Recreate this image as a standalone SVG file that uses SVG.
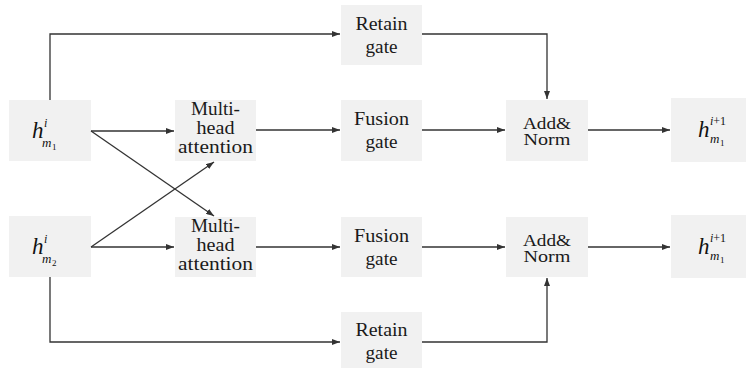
<svg xmlns="http://www.w3.org/2000/svg" width="747" height="369" viewBox="0 0 747 369">
<style>
.box{fill:#f1f1f1;stroke:none}
.t{font-family:"Liberation Serif","Times New Roman",serif;font-size:18px;fill:#1a1a1a;text-anchor:middle}
.s{font-size:16px}
.m{font-family:"Liberation Serif","Times New Roman",serif;font-style:italic;fill:#111}
.c{fill:none;stroke:#333;stroke-width:1.3}
</style>
<defs>
<marker id="ah" markerWidth="8" markerHeight="6" refX="8" refY="3" orient="auto" markerUnits="userSpaceOnUse">
<path d="M0,0 L8,3 L0,6 Z" fill="#333"/>
</marker>
</defs>
<rect width="747" height="369" fill="#fff"/>
<g id="hm1">
<rect class="box" x="9" y="100" width="82" height="61"/>
<text class="m" font-size="23"><tspan x="32" y="138">h</tspan><tspan x="44" y="127" font-size="12">i</tspan><tspan x="42" y="147" font-size="13">m</tspan><tspan x="52" y="150" font-size="9" font-style="normal">1</tspan></text>
</g>
<g id="hm2">
<rect class="box" x="9" y="216" width="82" height="61"/>
<text class="m" font-size="23"><tspan x="32" y="254">h</tspan><tspan x="44" y="243" font-size="12">i</tspan><tspan x="42" y="263" font-size="13">m</tspan><tspan x="52" y="266" font-size="9" font-style="normal">2</tspan></text>
</g>
<g id="mha1">
<rect class="box" x="175" y="100" width="81" height="61"/>
<text class="t" x="215.5" y="115" textLength="49" lengthAdjust="spacingAndGlyphs">Multi-</text>
<text class="t" x="215.5" y="134" textLength="38" lengthAdjust="spacingAndGlyphs">head</text>
<text class="t" x="215.5" y="153" textLength="75" lengthAdjust="spacingAndGlyphs">attention</text>
</g>
<g id="mha2">
<rect class="box" x="175" y="217" width="81" height="60"/>
<text class="t" x="215.5" y="232" textLength="49" lengthAdjust="spacingAndGlyphs">Multi-</text>
<text class="t" x="215.5" y="251" textLength="38" lengthAdjust="spacingAndGlyphs">head</text>
<text class="t" x="215.5" y="270" textLength="75" lengthAdjust="spacingAndGlyphs">attention</text>
</g>
<g id="rg1">
<rect class="box" x="341" y="5" width="81" height="60"/>
<text class="t" x="381.5" y="30" textLength="52" lengthAdjust="spacingAndGlyphs">Retain</text>
<text class="t" x="381.5" y="53" textLength="32" lengthAdjust="spacingAndGlyphs">gate</text>
</g>
<g id="fg1">
<rect class="box" x="341" y="100" width="81" height="61"/>
<text class="t" x="381.5" y="125" textLength="55" lengthAdjust="spacingAndGlyphs">Fusion</text>
<text class="t" x="381.5" y="148" textLength="32" lengthAdjust="spacingAndGlyphs">gate</text>
</g>
<g id="fg2">
<rect class="box" x="341" y="217" width="81" height="60"/>
<text class="t" x="381.5" y="242" textLength="55" lengthAdjust="spacingAndGlyphs">Fusion</text>
<text class="t" x="381.5" y="265" textLength="32" lengthAdjust="spacingAndGlyphs">gate</text>
</g>
<g id="rg2">
<rect class="box" x="341" y="312" width="81" height="56"/>
<text class="t" x="381.5" y="336" textLength="52" lengthAdjust="spacingAndGlyphs">Retain</text>
<text class="t" x="381.5" y="359" textLength="32" lengthAdjust="spacingAndGlyphs">gate</text>
</g>
<g id="an1">
<rect class="box" x="506" y="100" width="82" height="61"/>
<text class="t s" x="547" y="129" textLength="48" lengthAdjust="spacingAndGlyphs">Add&amp;</text>
<text class="t s" x="547" y="145" textLength="47" lengthAdjust="spacingAndGlyphs">Norm</text>
</g>
<g id="an2">
<rect class="box" x="506" y="217" width="82" height="60"/>
<text class="t s" x="547" y="246" textLength="48" lengthAdjust="spacingAndGlyphs">Add&amp;</text>
<text class="t s" x="547" y="262" textLength="47" lengthAdjust="spacingAndGlyphs">Norm</text>
</g>
<g id="out1">
<rect class="box" x="671" y="98" width="75" height="64"/>
<text class="m" font-size="23"><tspan x="698" y="137">h</tspan><tspan x="710" y="125" font-size="12">i<tspan font-style="normal">+1</tspan></tspan><tspan x="710" y="143" font-size="13">m</tspan><tspan x="720" y="146" font-size="9" font-style="normal">1</tspan></text>
</g>
<g id="out2">
<rect class="box" x="671" y="215" width="75" height="63"/>
<text class="m" font-size="23"><tspan x="698" y="254">h</tspan><tspan x="710" y="242" font-size="12">i<tspan font-style="normal">+1</tspan></tspan><tspan x="710" y="260" font-size="13">m</tspan><tspan x="720" y="263" font-size="9" font-style="normal">1</tspan></text>
</g>
<g id="connectors">
<path class="c" d="M50,100 V34 H340" marker-end="url(#ah)"/>
<path class="c" d="M50,277 V342 H340" marker-end="url(#ah)"/>
<path class="c" d="M91,131 H174" marker-end="url(#ah)"/>
<path class="c" d="M91,247 H174" marker-end="url(#ah)"/>
<path class="c" d="M91,131 L214,216" marker-end="url(#ah)"/>
<path class="c" d="M91,247 L214,162" marker-end="url(#ah)"/>
<path class="c" d="M256,130 H340" marker-end="url(#ah)"/>
<path class="c" d="M256,247 H340" marker-end="url(#ah)"/>
<path class="c" d="M422,130 H505" marker-end="url(#ah)"/>
<path class="c" d="M422,247 H505" marker-end="url(#ah)"/>
<path class="c" d="M588,130 H670" marker-end="url(#ah)"/>
<path class="c" d="M588,247 H670" marker-end="url(#ah)"/>
<path class="c" d="M422,34 H547 V99" marker-end="url(#ah)"/>
<path class="c" d="M422,342 H547 V278" marker-end="url(#ah)"/>
</g>
</svg>
